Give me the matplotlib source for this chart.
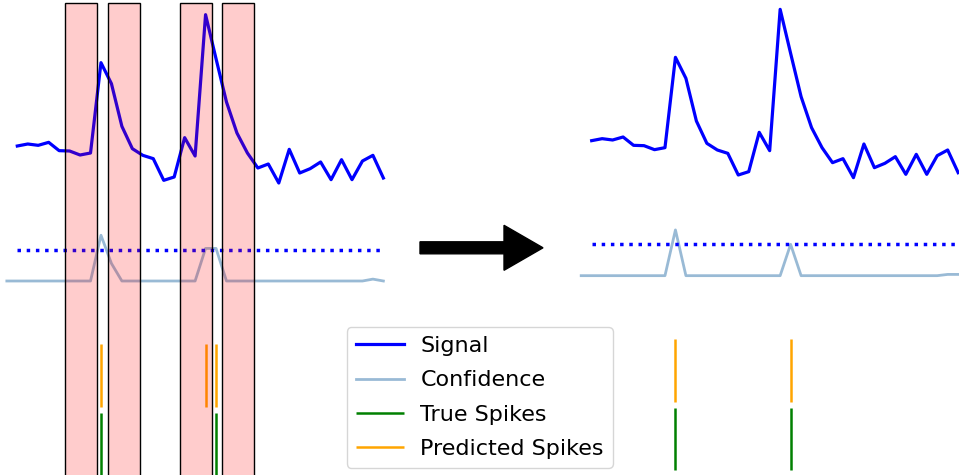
import numpy as np
import matplotlib
matplotlib.use("Agg")
import matplotlib.pyplot as plt
from matplotlib.patches import Rectangle, FancyArrow

# fluorescence trace (normalised), one value per frame
signal = [1.08, 1.14, 1.10, 1.19, 0.94, 0.93, 0.81, 0.87, 3.58, 2.95,
          1.67, 1.00, 0.80, 0.70, 0.05, 0.15, 1.33, 0.78, 5.02, 3.70,
          2.40, 1.47, 0.87, 0.42, 0.54, -0.03, 0.98, 0.27, 0.40, 0.60,
          0.07, 0.67, 0.07, 0.63, 0.80, 0.12]

# detector confidence, starts one frame earlier than the signal
conf_before = [0, 0, 0, 0, 0, 0, 0, 0, 0, 0.73, 0.28, 0, 0, 0, 0, 0, 0, 0,
               0, 0.52, 0.52, 0, 0, 0, 0, 0, 0, 0, 0, 0, 0, 0, 0, 0, 0,
               0.03, 0]
conf_after = [0, 0, 0, 0, 0, 0, 0, 0, 0, 0.73, 0, 0, 0, 0, 0, 0, 0, 0,
              0, 0, 0.50, 0, 0, 0, 0, 0, 0, 0, 0, 0, 0, 0, 0, 0, 0,
              0.02, 0.02]
threshold = 0.5

true_spikes = [8, 19]
pred_before = [8, 18, 19]
pred_after = [8, 19]

# windows flagged around each true spike
win_start = [4.6, 8.65, 15.55, 19.6]
win_width = 3.05

conf_base, conf_scale = -2.97, 1.88
t = np.arange(len(signal))
tc = np.arange(len(conf_before)) - 1

fig = plt.figure(figsize=(9.59, 4.75), dpi=100)
ax1 = fig.add_axes([0, 0, 400 / 959, 1])
ax2 = fig.add_axes([559 / 959, 0, 400 / 959, 1])


def draw(ax, conf, pred):
    ax.plot(t, signal, color="blue", lw=2.3, label="Signal")
    ax.plot(tc, conf_base + conf_scale * np.array(conf), color="steelblue",
            alpha=0.55, lw=2, label="Confidence")
    ax.hlines(conf_base + conf_scale * threshold, t[0], t[-1],
              color="blue", lw=2.5, linestyle=":")
    ax.vlines(true_spikes, -8.8, -6.93, color="green", lw=1.8,
              label="True Spikes")
    ax.vlines(pred, -6.75, -4.87, color="orange", lw=1.8,
              label="Predicted Spikes")
    ax.axis("off")


draw(ax1, conf_before, pred_before)
draw(ax2, conf_after, pred_after)
ax1.set_xlim(-1.654, 36.59)
ax1.set_ylim(-8.79, 5.46)
ax2.set_xlim(-3.12, 35.08)
ax2.set_ylim(-8.95, 5.30)

for x0 in win_start:
    ax1.add_patch(Rectangle((x0, -10), win_width, 15.37,
                            facecolor=(1, 0, 0, 0.2), edgecolor="black",
                            lw=1, zorder=5))

# arrow between the two panels
over = fig.add_axes([0, 0, 1, 1], zorder=-1)
over.set_xlim(0, 959)
over.set_ylim(475, 0)
over.axis("off")
over.add_patch(FancyArrow(420, 247.8, 123, 0, width=12, head_width=45,
                          head_length=39, length_includes_head=True,
                          color="black"))

handles, labels = ax2.get_legend_handles_labels()
fig.legend(handles, labels, loc="upper left",
           bbox_to_anchor=(346.7 / 959, 1 - 327.3 / 475),
           borderaxespad=0, fontsize=16, labelspacing=0.64,
           handlelength=2.2, handletextpad=0.72)

fig.savefig("out.png", dpi=100)
